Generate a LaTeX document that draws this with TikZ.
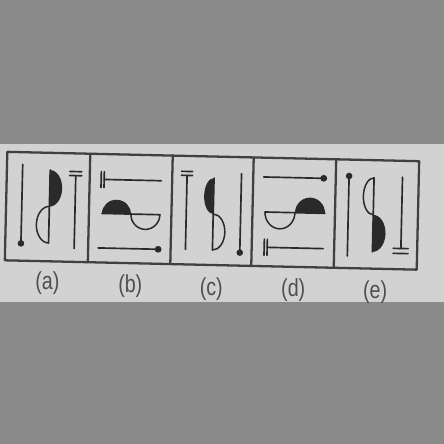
\documentclass[tikz,border=0pt]{standalone}
\usepackage{fontspec}
\newfontfamily\lblfont[FakeStretch=0.8]{Liberation Sans}
\definecolor{table}{HTML}{8A8A8A}
\definecolor{paper}{HTML}{D2D2D2}
\definecolor{ink}{HTML}{2A2A2A}
\definecolor{frame}{HTML}{404040}
\definecolor{pencil}{HTML}{4E4E4E}

\begin{document}
\begin{tikzpicture}[
  x=0.02cm, y=-0.02cm,
  line join=round, line cap=round,
  frameline/.style={frame, line width=1.3pt},
  stroke/.style={ink, line width=0.95pt},
  curve/.style={ink, line width=0.85pt},
  lbl/.style={font=\lblfont\fontsize{14}{14}\selectfont, text=pencil},
]

\useasboundingbox (0,0) rectangle (444,444);

% ── the table and the page lying on it ────────────────────────────────────
\fill[table] (0,0) rectangle (444,444);
\fill[paper] (0,144) rectangle (444,302);

% the page is photographed a little askew
\begin{scope}[rotate around={-1.3:(212,211)}]

% ── the strip of five boxes ───────────────────────────────────────────────
\draw[frameline] (6,156.5) rectangle (418,265);
\draw[frameline] (89,156.5) -- (89,265);
\draw[frameline] (171.5,156.5) -- (171.5,265);
\draw[frameline] (252.5,156.5) -- (252.5,265);
\draw[frameline] (335,156.5) -- (335,265);

% ── (a) ───────────────────────────────────────────────────────────────────
\draw[stroke] (21.7,168.7) -- (21.7,247.7);
\fill[ink] (21.7,247.7) circle (3.3);                 % pin
\draw[stroke] (49.3,173.7) -- (49.3,246.7);           % spine of the S
\fill[ink] (49.3,173.7) arc[start angle=-90, end angle=90, x radius=12.4, y radius=18.3] -- cycle;
\draw[curve] (49.3,246.7) arc[start angle=90, end angle=270, x radius=12.6, y radius=18.3];
\draw[stroke] (69,174.7) -- (81,174.7);
\draw[stroke] (69,178.7) -- (81,178.7);
\draw[stroke] (75,178.7) -- (75,251.7);

% ── (b) ───────────────────────────────────────────────────────────────────
\draw[stroke] (100.5,174) -- (100.5,190);
\draw[stroke] (103.5,174) -- (103.5,190);
\draw[stroke] (103.5,181.9) -- (160.7,181.9);
\draw[stroke] (102,215.9) -- (160,215.9);             % spine
\fill[ink] (102,215.9) arc[start angle=180, end angle=360, x radius=14.5, y radius=14] -- cycle;
\draw[curve] (131,215.9) arc[start angle=180, end angle=0, x radius=14.5, y radius=15];
\draw[stroke] (99,250.5) -- (159,250.5);
\fill[ink] (159,250.5) circle (3.4);

% ── (c) ───────────────────────────────────────────────────────────────────
\draw[stroke] (180.7,172) -- (191.7,172);
\draw[stroke] (180.7,176) -- (191.7,176);
\draw[stroke] (186.3,176) -- (186.3,250);
\draw[stroke] (213.3,178) -- (213.3,250);             % spine
\fill[ink] (213.3,178) arc[start angle=270, end angle=90, x radius=9.5, y radius=18] -- cycle;
\draw[curve] (213.3,214) arc[start angle=-90, end angle=90, x radius=12, y radius=18];
\draw[stroke] (240.7,173) -- (240.7,252);
\fill[ink] (240.7,252) circle (3.3);

% ── (d) ───────────────────────────────────────────────────────────────────
\draw[stroke] (263,175.8) -- (323,175.8);
\fill[ink] (323,175.8) circle (3.4);
\draw[stroke] (265,210.8) -- (325,210.8);             % spine
\draw[curve] (265,210.8) arc[start angle=180, end angle=0, x radius=15, y radius=16.5];
\fill[ink] (295,210.8) arc[start angle=180, end angle=360, x radius=15, y radius=15.4] -- cycle;
\draw[stroke] (265,238) -- (265,254);
\draw[stroke] (268,238) -- (268,254);
\draw[stroke] (268,246.1) -- (324,246.1);

% ── (e) ───────────────────────────────────────────────────────────────────
\fill[ink] (348.3,172.9) circle (3.3);
\draw[stroke] (348.3,172.9) -- (348.3,252.9);
\draw[stroke] (373.3,174.2) -- (373.3,248.2);         % spine
\draw[curve] (373.3,174.2) arc[start angle=270, end angle=90, x radius=10.3, y radius=18.5];
\fill[ink] (373.3,211.2) arc[start angle=-90, end angle=90, x radius=12.7, y radius=18.5] -- cycle;
\draw[stroke] (401.7,172.9) -- (401.7,244.2);
\draw[stroke] (394,244.2) -- (409,244.2);
\draw[stroke] (394,249.2) -- (409,249.2);

% ── answer letters under the strip ────────────────────────────────────────
\node[lbl] (la) at (49,287) {(a)};
\node[lbl] (lb) at (132,288) {(b)};
\node[lbl] (lc) at (213,289) {(c)};
\node[lbl] (ld) at (295,288) {(d)};
\node[lbl] (le) at (377,288) {(e)};

\end{scope}

\end{tikzpicture}
\end{document}
